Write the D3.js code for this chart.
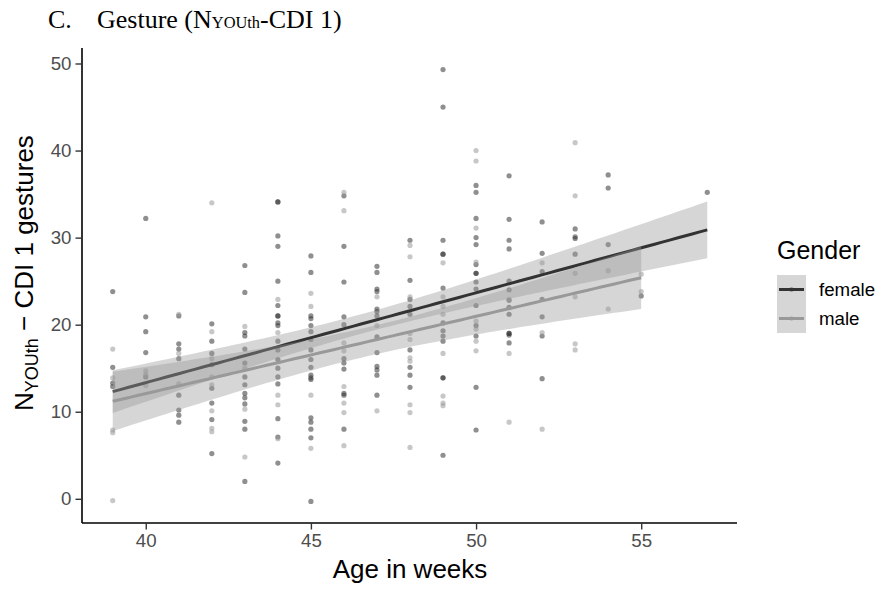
<!DOCTYPE html>
<html>
<head>
<meta charset="utf-8">
<script src="https://cdn.jsdelivr.net/npm/d3@7"></script>
<style>
  html, body { margin: 0; padding: 0; background: #fff; }
  svg { display: block; }
</style>
</head>
<body>
<svg id="chart" width="883" height="589"></svg>
<script>
// Gesture scores (N_YOUth-CDI 1) by age in weeks, split by gender.
const weeks = [39, 40, 41, 42, 43, 44, 45, 46, 47, 48, 49, 50, 51, 52, 53, 54, 55, 57];

const femaleGestures = [
  [23.8, 15.1, 13.3, 12.9],
  [32.2, 20.9, 19.2, 16.8, 14.0],
  [21.0, 17.8, 17.2, 16.1, 11.9, 10.2, 9.6, 8.8],
  [20.1, 18.1, 16.7, 15.4, 12.7, 11.0, 9.1, 5.2],
  [26.8, 23.7, 19.1, 18.7, 17.2, 15.6, 14.0, 13.1, 12.1, 11.6, 10.9, 8.9, 8.0, 2.0],
  [34.1, 34.1, 30.2, 29.0, 25.0, 22.2, 21.0, 21.0, 20.2, 19.9, 18.1, 17.1, 16.0, 15.0, 14.0, 13.2, 9.2, 7.1, 4.1],
  [27.9, 26.0, 21.0, 20.7, 19.9, 19.2, 18.3, 17.1, 16.0, 15.1, 14.2, 13.9, 13.7, 9.3, 8.8, 8.0, 7.0, -0.3],
  [34.8, 29.0, 24.9, 20.9, 20.0, 16.1, 15.6, 14.9, 12.1, 11.9, 8.0],
  [26.7, 26.0, 24.1, 23.8, 21.8, 21.5, 21.0, 18.6, 16.8, 15.2, 14.8, 14.2, 11.9],
  [29.7, 25.1, 22.9, 22.1, 21.2, 17.1, 15.1, 14.2, 12.8],
  [49.3, 45.0, 29.7, 28.1, 28.1, 24.2, 20.2, 19.3, 18.7, 18.1, 13.9, 13.9, 5.0],
  [36.0, 35.2, 32.2, 30.0, 29.2, 26.9, 25.9, 25.9, 24.9, 24.1, 22.2, 19.9, 18.7, 12.8, 7.9],
  [37.1, 32.1, 29.7, 28.7, 25.0, 24.0, 22.8, 22.0, 21.2, 19.0, 19.0, 18.8, 17.9],
  [31.8, 28.2, 26.1, 22.9, 20.9, 18.7, 13.8],
  [31.0, 30.1, 29.9, 28.1],
  [37.2, 35.7, 29.2],
  [23.3],
  [35.2]
];

const maleGestures = [
  [17.2, 13.9, 7.9, 7.6, -0.2],
  [14.7, 14.3, 13.0],
  [21.2, 16.7, 13.2],
  [34.0, 19.2, 16.1, 14.0, 13.1, 10.1, 8.1, 7.7],
  [19.8, 15.0, 10.3, 4.8],
  [22.9, 19.1, 11.9, 10.8, 6.9],
  [23.6, 22.1, 11.9, 5.8],
  [35.2, 33.1, 17.9, 17.0, 12.9, 11.0, 9.9, 6.1],
  [23.2, 19.9, 10.1],
  [29.1, 27.8, 23.2, 19.0, 18.3, 16.2, 15.8, 10.8, 9.9, 5.9],
  [27.1, 23.2, 22.1, 21.2, 16.7, 11.8, 11.0, 10.7],
  [40.0, 38.8, 31.1, 27.2, 20.4, 19.5, 18.1, 17.0],
  [22.9, 16.7, 8.8],
  [27.1, 19.1, 8.0],
  [40.9, 34.8, 25.9, 23.2, 17.8, 17.1],
  [26.2, 21.8],
  [25.8, 23.8],
  []
];

const genders = ["female", "male"];
const xTicks = [40, 45, 50, 55];
const yTicks = [0, 10, 20, 30, 40, 50];

const colour = { female: "#333333", male: "#999999" };

// Flatten into (age, score, gender) records
function toPoints(lists, gender) {
  const out = [];
  lists.forEach((vals, i) => vals.forEach(v => out.push({ age: weeks[i], score: v, gender })));
  return out;
}
const points = toPoints(femaleGestures, "female").concat(toPoints(maleGestures, "male"));

// Ordinary least squares fit with a 95% confidence band for the mean
function tQuantile975(df) {
  // Cornish-Fisher style expansion around the normal quantile
  const z = 1.959964;
  const g1 = (z ** 3 + z) / 4;
  const g2 = (5 * z ** 5 + 16 * z ** 3 + 3 * z) / 96;
  return z + g1 / df + g2 / (df * df);
}
function lmFit(data) {
  const n = data.length;
  const mx = d3.mean(data, d => d.age), my = d3.mean(data, d => d.score);
  let sxx = 0, sxy = 0;
  data.forEach(d => { sxx += (d.age - mx) ** 2; sxy += (d.age - mx) * (d.score - my); });
  const b = sxy / sxx, a = my - b * mx;
  let sse = 0;
  data.forEach(d => { sse += (d.score - (a + b * d.age)) ** 2; });
  const s = Math.sqrt(sse / (n - 2));
  const t = tQuantile975(n - 2);
  const [x0, x1] = d3.extent(data, d => d.age);
  const grid = d3.range(80).map(i => x0 + (x1 - x0) * i / 79);
  return grid.map(x => {
    const fit = a + b * x;
    const se = s * Math.sqrt(1 / n + (x - mx) ** 2 / sxx);
    return { x, fit, lo: fit - t * se, hi: fit + t * se };
  });
}

const svg = d3.select("#chart");
svg.append("rect").attr("width", 883).attr("height", 589).attr("fill", "#fff");

// Panel scales (5% expansion of the data range on both axes)
const xExt = d3.extent(points, d => d.age);
const yExt = d3.extent(points, d => d.score);
const xPad = (xExt[1] - xExt[0]) * 0.05, yPad = (yExt[1] - yExt[0]) * 0.05;
const x = d3.scaleLinear().domain([xExt[0] - xPad, xExt[1] + xPad]).range([83, 737]);
const y = d3.scaleLinear().domain([yExt[0] - yPad, yExt[1] + yPad]).range([523, 48]);

// Title
const title = svg.append("text")
  .attr("font-family", "'Liberation Serif', 'Times New Roman', serif")
  .attr("font-size", 26).attr("fill", "#000");
title.append("tspan").attr("x", 48).attr("y", 28).text("C.");
title.append("tspan").attr("x", 97).attr("y", 28).text("Gesture (N");
title.append("tspan").attr("font-size", 16.4).text("YOUth");
title.append("tspan").text("-CDI 1)");

// Points
svg.append("g").selectAll("circle").data(points).join("circle")
  .attr("cx", d => x(d.age))
  .attr("cy", d => y(d.score))
  .attr("r", 2.6)
  .attr("fill", d => colour[d.gender])
  .attr("fill-opacity", 0.55);

// Smoothers: ribbon then line for each gender
const area = d3.area().x(d => x(d.x)).y0(d => y(d.lo)).y1(d => y(d.hi));
const line = d3.line().x(d => x(d.x)).y(d => y(d.fit));
genders.forEach(g => {
  const fit = lmFit(points.filter(p => p.gender === g));
  svg.append("path").attr("d", area(fit)).attr("fill", "#999999").attr("fill-opacity", 0.4);
  svg.append("path").attr("d", line(fit)).attr("fill", "none")
    .attr("stroke", colour[g]).attr("stroke-width", 3);
});

// Axes
const axisFont = "'Liberation Sans', Arial, sans-serif";
const xAxis = svg.append("g").attr("transform", "translate(0,523)")
  .call(d3.axisBottom(x).tickValues(xTicks).tickSize(6.5).tickPadding(4).tickSizeOuter(0));
const yAxis = svg.append("g").attr("transform", "translate(82,0)")
  .call(d3.axisLeft(y).tickValues(yTicks).tickSize(6.5).tickPadding(4).tickSizeOuter(0));
[xAxis, yAxis].forEach(ax => {
  ax.select(".domain").attr("stroke", "#000").attr("stroke-width", 1.6);
  ax.selectAll(".tick line").attr("stroke", "#333").attr("stroke-width", 1.4);
  ax.selectAll(".tick text").attr("font-family", axisFont).attr("font-size", 18.7).attr("fill", "#4D4D4D");
});
xAxis.select(".domain").attr("d", "M82,0H737");
yAxis.select(".domain").attr("d", "M0,48V523");

// Axis titles
svg.append("text").attr("x", 410).attr("y", 578).attr("text-anchor", "middle")
  .attr("font-family", axisFont).attr("font-size", 26).attr("fill", "#000")
  .text("Age in weeks");

const yTitle = svg.append("text")
  .attr("transform", "translate(33,411) rotate(-90)")
  .attr("font-family", axisFont).attr("font-size", 26).attr("fill", "#000");
yTitle.append("tspan").text("N");
yTitle.append("tspan").attr("font-size", 18).attr("dy", 5).text("YOUth");
yTitle.append("tspan").attr("dy", -5).text(" \u2212 CDI 1 gestures");

// Legend
const legend = svg.append("g").attr("font-family", axisFont);
legend.append("text").attr("x", 777).attr("y", 259).attr("font-size", 25).attr("fill", "#000").text("Gender");
genders.forEach((g, i) => {
  const top = 275 + i * 29;
  legend.append("rect").attr("x", 777).attr("y", top).attr("width", 29).attr("height", 29)
    .attr("fill", "#999999").attr("fill-opacity", 0.4);
  legend.append("line").attr("x1", 779).attr("x2", 804).attr("y1", top + 14.5).attr("y2", top + 14.5)
    .attr("stroke", colour[g]).attr("stroke-width", 3);
  legend.append("circle").attr("cx", 791.5).attr("cy", top + 14.5).attr("r", 2.2)
    .attr("fill", colour[g]).attr("fill-opacity", 0.55);
  legend.append("text").attr("x", 819).attr("y", top + 21).attr("font-size", 18.7).attr("fill", "#000").text(g);
});
</script>
</body>
</html>
